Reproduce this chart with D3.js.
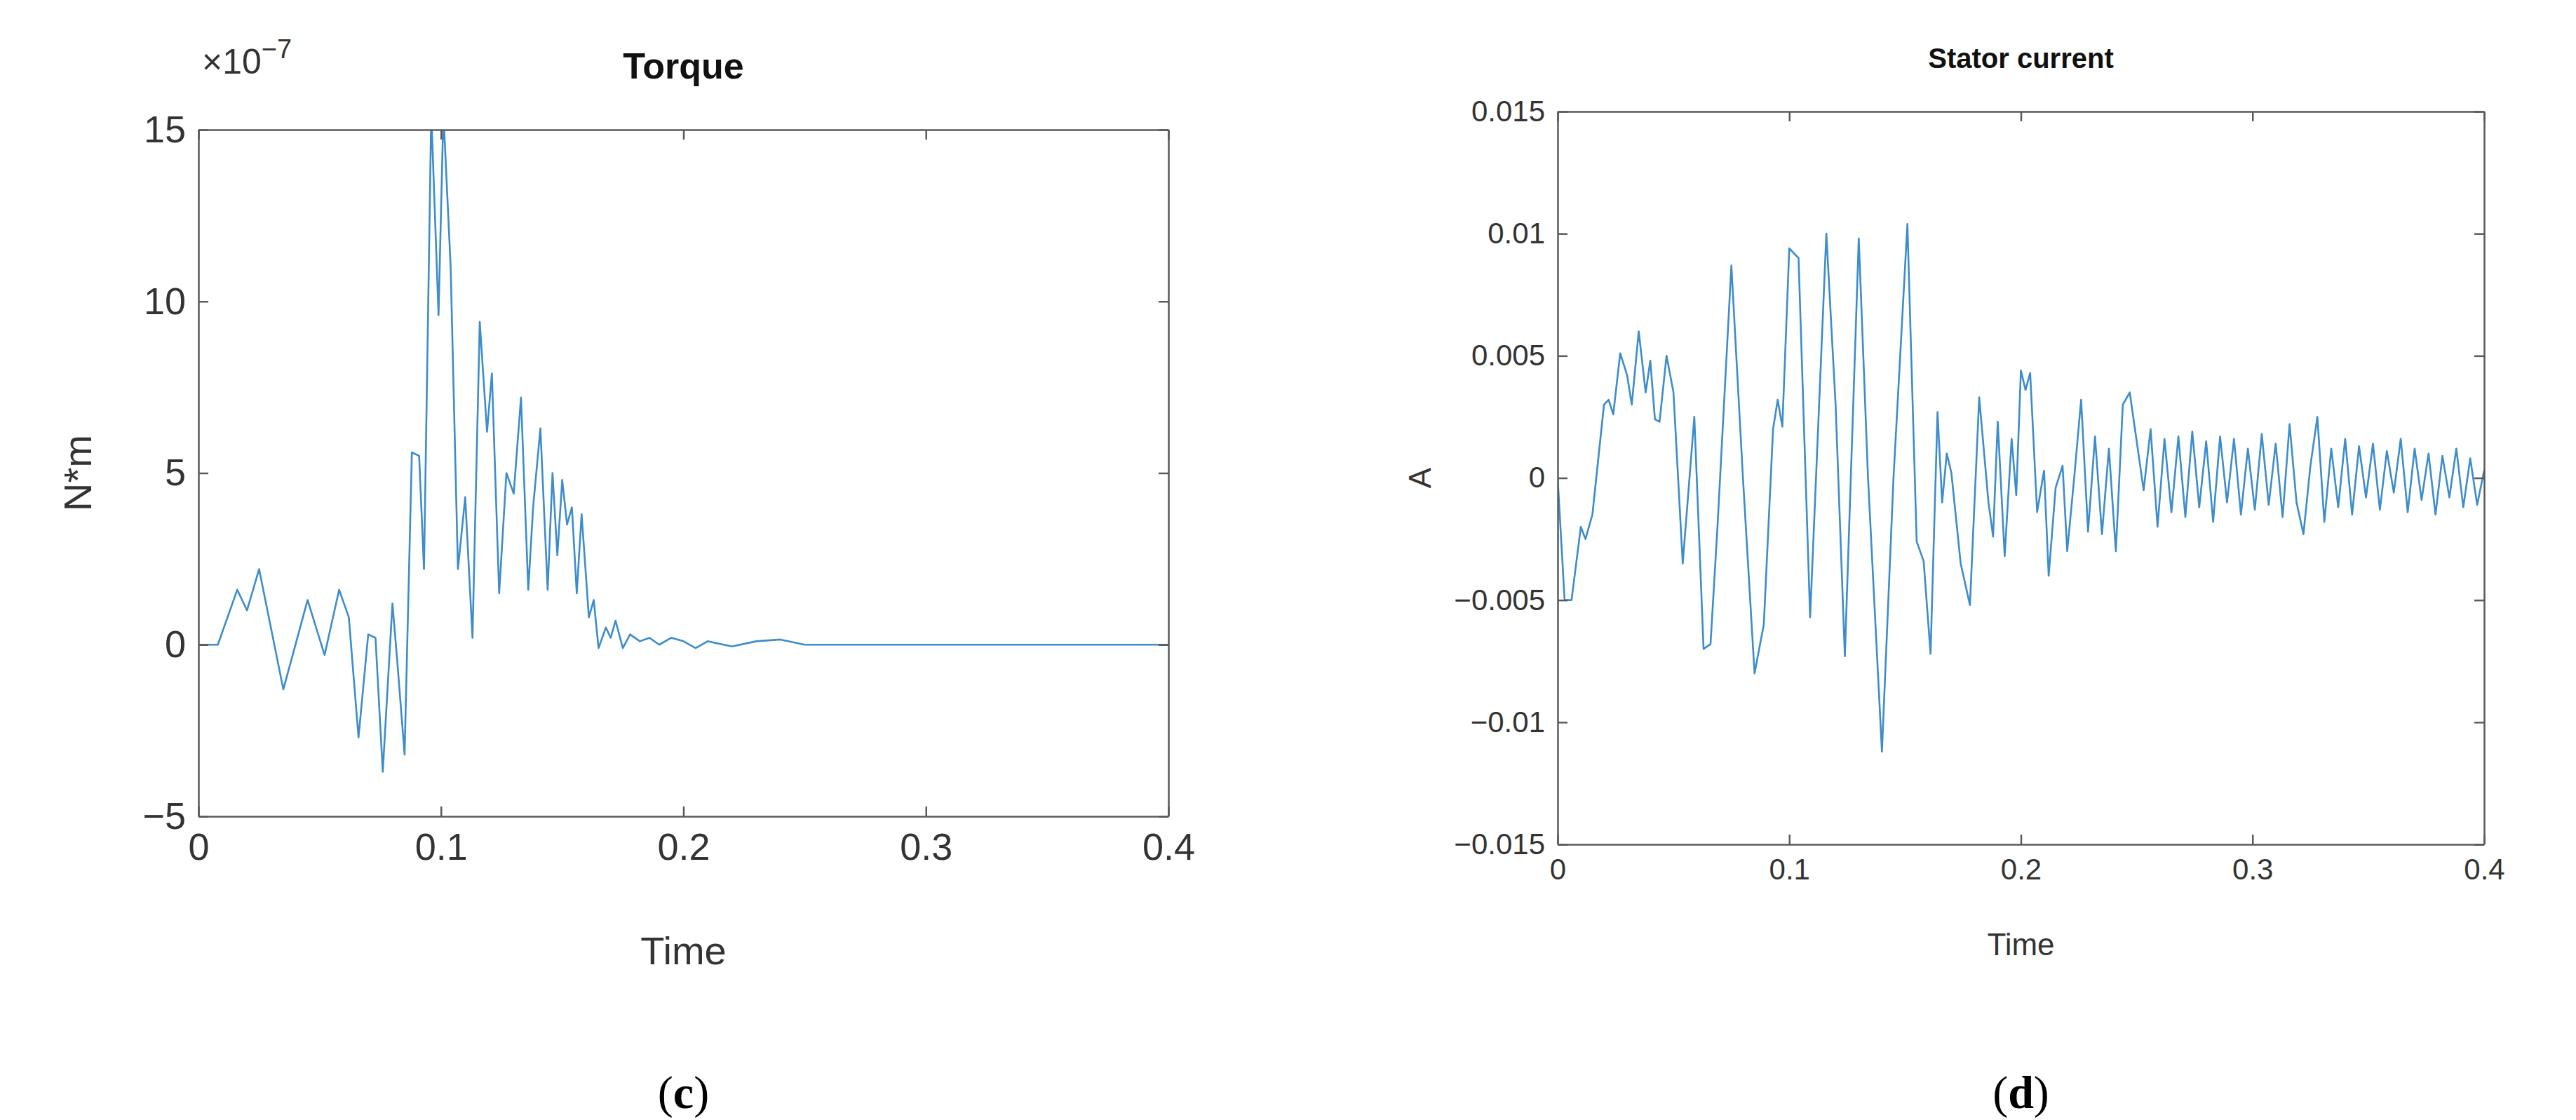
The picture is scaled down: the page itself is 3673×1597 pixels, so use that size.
<!DOCTYPE html>
<html><head><meta charset="utf-8">
<script src="https://cdn.jsdelivr.net/npm/d3@7"></script>
<style>body{margin:0;background:#fff}svg{display:block}</style>
</head><body>
<svg id="c" width="3673" height="1597"></svg>
<script>
// Torque (x 1e-7 N*m)
const torqueT = [0,0.008,0.016,0.02,0.025,0.035,0.045,0.052,0.058,0.062,0.066,0.07,0.073,0.076,0.08,0.082,0.085,0.088,0.091,0.093,0.096,0.099,0.101,0.104,0.107,0.11,0.113,0.116,0.119,0.121,0.124,0.127,0.13,0.133,0.136,0.138,0.141,0.144,0.146,0.148,0.15,0.152,0.154,0.156,0.158,0.161,0.163,0.165,0.168,0.17,0.172,0.175,0.178,0.182,0.186,0.19,0.195,0.2,0.205,0.21,0.22,0.23,0.24,0.25,0.27,0.4];
const torqueV = [0,0,1.6,1.0,2.2,-1.3,1.3,-0.3,1.6,0.8,-2.7,0.3,0.2,-3.7,1.2,-0.5,-3.2,5.6,5.5,2.2,15.5,9.6,15.5,11,2.2,4.3,0.2,9.4,6.2,7.9,1.5,5.0,4.4,7.2,1.6,4.0,6.3,1.6,5.0,2.6,4.8,3.5,4.0,1.5,3.8,0.8,1.3,-0.1,0.5,0.2,0.7,-0.1,0.3,0.1,0.2,0,0.2,0.1,-0.1,0.1,-0.05,0.1,0.15,0,0,0];
const torqueYTicks = [-5,0,5,10,15];
const xTicks = [0,0.1,0.2,0.3,0.4];
// Stator current (x 1e-3 A)
const statorT = [0,0.003,0.006,0.01,0.012,0.015,0.02,0.022,0.024,0.027,0.03,0.032,0.035,0.038,0.04,0.042,0.044,0.047,0.05,0.054,0.059,0.063,0.066,0.069,0.075,0.08,0.085,0.089,0.093,0.095,0.097,0.1,0.104,0.109,0.116,0.12,0.124,0.13,0.134,0.14,0.145,0.151,0.155,0.158,0.161,0.164,0.166,0.168,0.17,0.174,0.178,0.182,0.186,0.188,0.19,0.193,0.196,0.198,0.2,0.202,0.204,0.207,0.21,0.212,0.215,0.218,0.22,0.223,0.226,0.229,0.232,0.235,0.238,0.241,0.244,0.247,0.25,0.253,0.256,0.259,0.262,0.265,0.268,0.271,0.274,0.277,0.28,0.283,0.286,0.289,0.292,0.295,0.298,0.301,0.304,0.307,0.31,0.313,0.316,0.319,0.322,0.325,0.328,0.331,0.334,0.337,0.34,0.343,0.346,0.349,0.352,0.355,0.358,0.361,0.364,0.367,0.37,0.373,0.376,0.379,0.382,0.385,0.388,0.391,0.394,0.397,0.4];
const statorV = [0,-5,-5,-2,-2.5,-1.5,3,3.2,2.6,5.1,4.2,3,6,3.5,4.8,2.4,2.3,5,3.5,-3.5,2.5,-7,-6.8,-2,8.7,0,-8,-6,2,3.2,2.1,9.4,9.0,-5.7,10,3,-7.3,9.8,0,-11.2,0,10.4,-2.6,-3.4,-7.2,2.7,-1,1,0.2,-3.5,-5.2,3.3,-1,-2.4,2.3,-3.2,1.6,-0.7,4.4,3.6,4.3,-1.4,0.3,-4,-0.4,0.5,-3,0,3.2,-2.2,1.7,-2.3,1.2,-3,3,3.5,1.5,-0.5,2,-2,1.6,-1.4,1.7,-1.6,1.9,-1.2,1.5,-1.8,1.7,-1,1.6,-1.5,1.2,-1.3,1.8,-1.1,1.4,-1.6,2.2,-1,-2.3,0.5,2.5,-1.8,1.2,-1.2,1.6,-1.5,1.3,-0.8,1.4,-1.3,1.1,-0.6,1.6,-1.4,1.2,-0.9,1.0,-1.5,0.9,-0.8,1.2,-1.2,0.8,-1.1,0.3];
const statorYTicks = [-0.015,-0.01,-0.005,0,0.005,0.01,0.015];

const svg = d3.select("#c");
const font = "'Liberation Sans', Arial, sans-serif";
const lineColor = "#3d8ccb";
const minus = s => s.replace("-","\u2212");

function panel(o){
  const x = d3.scaleLinear().domain([0,0.4]).range([o.x0,o.x1]);
  const y = d3.scaleLinear().domain(o.yd).range([o.y1,o.y0]);
  const g = svg.append("g");
  const id = "clip"+o.key;
  svg.append("clipPath").attr("id",id).append("rect").attr("x",o.x0).attr("y",o.y0).attr("width",o.x1-o.x0).attr("height",o.y1-o.y0);
  const data = o.t.map((t,i)=>[t,o.v[i]*o.mult]);
  g.append("path").datum(data).attr("clip-path",`url(#${id})`)
    .attr("d",d3.line().x(d=>x(d[0])).y(d=>y(d[1])))
    .attr("fill","none").attr("stroke",lineColor).attr("stroke-width",o.sw).attr("stroke-linejoin","round");
  const tl = 14;
  const ax = (sel)=>{sel.selectAll("path").attr("stroke","#5a5a5a").attr("stroke-width",2.5);sel.selectAll("line").attr("stroke","#5a5a5a").attr("stroke-width",2.5);sel.selectAll("text").attr("fill","#333").attr("font-family",font).attr("font-size",o.fs);};
  g.append("g").attr("transform",`translate(0,${o.y1})`).call(d3.axisBottom(x).tickValues(xTicks).tickSizeInner(-tl).tickSizeOuter(0).tickPadding(o.xpad).tickFormat(d=>d===0?"0":d3.format(".1f")(d))).call(ax);
  g.append("g").attr("transform",`translate(0,${o.y0})`).call(d3.axisTop(x).tickValues(xTicks).tickSizeInner(-tl).tickSizeOuter(0).tickFormat("")).call(ax);
  g.append("g").attr("transform",`translate(${o.x0},0)`).call(d3.axisLeft(y).tickValues(o.yt).tickSizeInner(-tl).tickSizeOuter(0).tickPadding(18).tickFormat(o.yf)).call(ax);
  g.append("g").attr("transform",`translate(${o.x1},0)`).call(d3.axisRight(y).tickValues(o.yt).tickSizeInner(-tl).tickSizeOuter(0).tickFormat("")).call(ax);
  g.append("text").attr("x",(o.x0+o.x1)/2).attr("y",o.titleY).attr("text-anchor","middle").attr("font-family",font).attr("font-weight","bold").attr("font-size",o.tfs).attr("fill","#111").text(o.title);
  g.append("text").attr("x",(o.x0+o.x1)/2).attr("y",o.xlY).attr("text-anchor","middle").attr("font-family",font).attr("font-size",o.lfs).attr("fill","#333").text("Time");
  g.append("text").attr("transform",`translate(${o.ylX},${(o.y0+o.y1)/2}) rotate(-90)`).attr("text-anchor","middle").attr("font-family",font).attr("font-size",o.lfs).attr("fill","#333").text(o.ylabel);
  g.append("text").attr("x",(o.x0+o.x1)/2).attr("y",1580).attr("text-anchor","middle").attr("font-family","'Liberation Serif','DejaVu Serif',serif").attr("font-size",66).attr("fill","#000")
    .html(`(<tspan font-weight="bold">${o.letter}</tspan>)`);
  return g;
}

const g1 = panel({key:"a",x0:283,x1:1666,y0:185,y1:1164,yd:[-5,15],yt:torqueYTicks,mult:1,t:torqueT,v:torqueV,
  yf:d=>minus(String(d)),fs:54,tfs:52,lfs:56,xpad:24,title:"Torque",titleY:112,xlY:1375,ylX:130,ylabel:"N*m",letter:"c",sw:2.6});
g1.append("text").attr("x",288).attr("y",105).attr("font-family",font).attr("font-size",50).attr("fill","#333")
  .html('\u00d710<tspan dy="-22" font-size="38">\u22127</tspan>');

panel({key:"b",x0:2221,x1:3542,y0:159,y1:1204,yd:[-0.015,0.015],yt:statorYTicks,mult:0.001,t:statorT,v:statorV,
  yf:d=>d===0?"0":minus(String(+d.toFixed(3))),fs:42,tfs:40,lfs:44,xpad:20,title:"Stator current",titleY:97,xlY:1362,ylX:2040,ylabel:"A",letter:"d",sw:2.6});
</script>
</body></html>
